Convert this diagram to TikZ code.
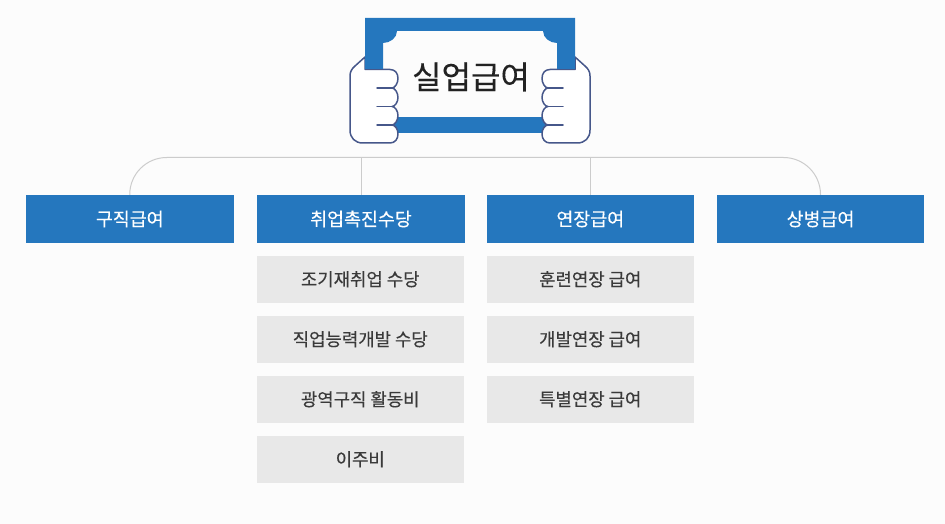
\documentclass[tikz,border=0pt]{standalone}
\usepackage{fontspec}
\setmainfont{Noto Sans CJK KR}[FakeBold=0.25]
\newfontfamily\plainkr{Noto Sans CJK KR}
\definecolor{bluefill}{HTML}{2577BE}
\definecolor{greyfill}{HTML}{E8E8E8}
\definecolor{linegrey}{HTML}{CCCCCC}
\definecolor{handline}{HTML}{46578A}
\definecolor{greytext}{HTML}{3A3A3A}
\definecolor{titletext}{HTML}{222222}
\newcommand\lowered[1]{\raisebox{-0.7pt}{#1}}
\tikzset{
  headbox/.style={fill=bluefill,draw=none,minimum width=207.5pt,minimum height=48pt,inner sep=0pt,text=white,font=\fontsize{18.4}{20}\selectfont},
  subbox/.style={fill=greyfill,draw=none,minimum width=207.5pt,minimum height=47.5pt,inner sep=0pt,text=greytext,font=\fontsize{17.8}{20}\selectfont},
  trunk/.style={draw=linegrey,line width=1pt},
  hand/.style={draw=handline,line width=1.5pt,fill=white,line join=round,line cap=round},
  knuckle/.style={draw=handline,line width=1.5pt,line cap=round}
}
\begin{document}
\begin{tikzpicture}[x=1pt,y=-1pt]
\useasboundingbox (0,0) rectangle (945,524);
\fill[white!99!black] (0,0) rectangle (945,524);
% nodes
\node[headbox] (b1) at (129.75,219) {\lowered{구직급여}};
\node[headbox] (b2) at (361,219) {\lowered{취업촉진수당}};
\node[headbox] (b3) at (590.25,219) {\lowered{연장급여}};
\node[headbox] (b4) at (820.5,219) {\lowered{상병급여}};
\coordinate (top) at (470,157.5);
\draw[trunk,rounded corners=37pt] (b1.north) |- (top) -| (b4.north);
\draw[trunk] (b2.north) -- (b2.north |- top);
\draw[trunk] (b3.north) -- (b3.north |- top);
\node[subbox] (s1) at (360.25,279.25) {\lowered{조기재취업 수당}};
\node[subbox] (s2) at (360.25,339.25) {\lowered{직업능력개발 수당}};
\node[subbox] (s3) at (360.25,399.25) {\lowered{광역구직 활동비}};
\node[subbox] (s4) at (360.25,459.25) {\lowered{이주비}};
\node[subbox] (t1) at (590.25,279.25) {\lowered{훈련연장 급여}};
\node[subbox] (t2) at (590.25,339.25) {\lowered{개발연장 급여}};
\node[subbox] (t3) at (590.25,399.25) {\lowered{특별연장 급여}};
% ticket
\fill[bluefill] (365,18) -- (575,18) -- (575,69.5) -- (557,69.5) -- (557,43)
  .. controls (550,43) and (543,38) .. (543,31) -- (397,31)
  .. controls (397,38) and (390,43) .. (383,43) -- (383,69.5) -- (365,69.5) -- cycle;
\fill[bluefill] (385,117) rectangle (555,133);
% hands
\foreach \sh/\sc in {0pt/1,940pt/-1}{
\begin{scope}[xshift=\sh,xscale=\sc]
  \draw[hand] (365,57) -- (355,66) .. controls (351.5,69) and (350,72) .. (350,76)
    -- (350,130) .. controls (350,138) and (355,143) .. (363,143) -- (390,143)
    .. controls (395,143) and (398,139) .. (398,134)
    .. controls (398,129) and (395,125) .. (392,125)
    .. controls (395,125) and (398,120) .. (398,115.5)
    .. controls (398,111) and (395,106.5) .. (392,106.5)
    .. controls (395,106.5) and (398,102) .. (398,97.5)
    .. controls (398,93) and (395,88) .. (392,88)
    .. controls (395,88) and (398,83) .. (398,78.5)
    .. controls (398,73) and (395,69.5) .. (390,69.5) -- (365,69.5) -- cycle;
  \draw[knuckle] (377,88) -- (392,88);
  \draw[knuckle] (377,106.5) -- (392,106.5);
  \draw[knuckle] (377,125) -- (392,125);
\end{scope}}
\fill[bluefill] (365,18) rectangle (383,69);
\fill[bluefill] (557,18) rectangle (575,69);
\node[text=titletext,font=\fontsize{32}{34}\selectfont,inner sep=0pt] (title) at (471,77) {실업급여};
\end{tikzpicture}
\end{document}
